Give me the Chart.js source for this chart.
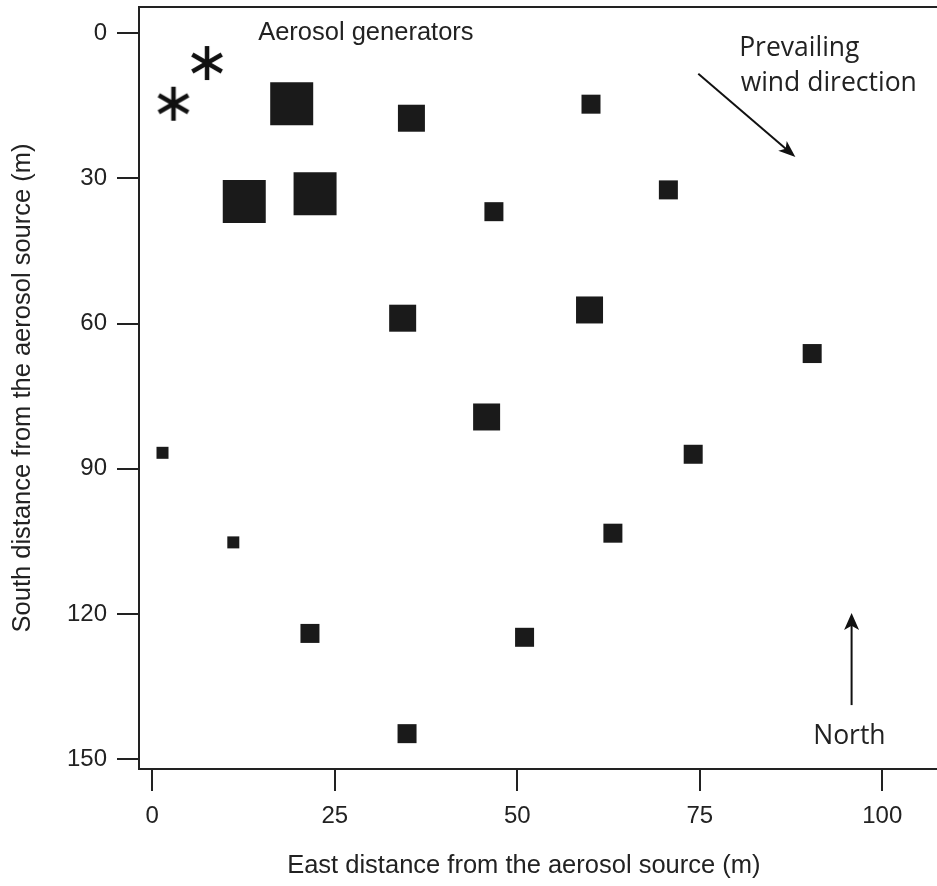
<!DOCTYPE html>
<html>
<head>
<meta charset="utf-8">
<script src="https://cdn.jsdelivr.net/npm/chart.js@4/dist/chart.umd.min.js"></script>
<style>
  html, body { margin: 0; padding: 0; background: #fff; }
  #wrap { width: 937px; height: 886px; }
</style>
</head>
<body>
<div id="wrap"><canvas id="siteMap"></canvas></div>
<script>
// Aerosol generators (asterisks), metres east / south of source
const generatorEast = [7.5, 2.9];
const generatorSouth = [6.2, 14.6];

// Samplers (squares); sizeClass 1..4 = marker size class in the figure
const samplerEast  = [19.1, 35.5, 60.1, 12.6, 22.3, 46.8, 70.7, 34.3, 59.9, 90.4, 45.8, 1.4, 74.1, 11.1, 63.1, 21.6, 51.0, 34.9];
const samplerSouth = [14.6, 17.6, 14.7, 34.8, 33.2, 36.9, 32.4, 58.9, 57.2, 66.2, 79.3, 86.7, 87.0, 105.2, 103.3, 124.0, 124.8, 144.7];
const samplerClass = [4, 3, 2, 4, 4, 2, 2, 3, 3, 2, 3, 1, 2, 1, 2, 2, 2, 2];

const xTicks = [0, 25, 50, 75, 100];
const yTicks = [0, 30, 60, 90, 120, 150];

// annotations in data units
const windArrow = [[74.8, 8.4], [88.1, 25.6]];
const northArrow = [[95.8, 138.8], [95.8, 119.8]];
const labels = [
    { text: 'Aerosol generators', x: 14.5, y: 1.4, font: '25.5px "Liberation Sans", Arial, sans-serif', align: 'left' },
    { text: 'Prevailing', x: 80.4, y: 4.8, font: '26.5px "Open Sans", sans-serif', align: 'left' },
    { text: 'wind direction', x: 80.6, y: 11.9, font: '26.5px "Open Sans", sans-serif', align: 'left' },
    { text: 'North', x: 95.5, y: 146.8, font: '26.5px "Open Sans", sans-serif', align: 'center' },
];

const ink = '#1a1a1a';
const sideByClass = { 1: 12, 2: 19, 3: 27, 4: 43 };

// asterisk marker
function makeAsterisk() {
    const c = document.createElement('canvas');
    c.width = 38; c.height = 38;
    const g = c.getContext('2d');
    g.strokeStyle = '#111';
    g.lineWidth = 4.5;
    g.translate(19, 19);
    for (let i = 0; i < 3; i++) {
        const a = Math.PI / 2 + i * Math.PI / 3;
        g.beginPath();
        g.moveTo(Math.cos(a) * 17, Math.sin(a) * 17);
        g.lineTo(-Math.cos(a) * 17, -Math.sin(a) * 17);
        g.stroke();
    }
    return c;
}

function drawArrow(ctx, x0, y0, x1, y1, headLen, headW) {
    const ang = Math.atan2(y1 - y0, x1 - x0);
    ctx.beginPath();
    ctx.moveTo(x0, y0);
    ctx.lineTo(x1 - Math.cos(ang) * headLen * 0.7, y1 - Math.sin(ang) * headLen * 0.7);
    ctx.stroke();
    ctx.save();
    ctx.translate(x1, y1);
    ctx.rotate(ang);
    ctx.beginPath();
    ctx.moveTo(0, 0);
    ctx.lineTo(-headLen, -headW / 2);
    ctx.lineTo(-headLen * 0.75, 0);
    ctx.lineTo(-headLen, headW / 2);
    ctx.closePath();
    ctx.fill();
    ctx.restore();
}

const annotations = {
    id: 'annotations',
    afterDraw(chart) {
        const { ctx, chartArea, scales: { x, y } } = chart;
        ctx.save();
        // top frame line
        ctx.strokeStyle = '#222';
        ctx.lineWidth = 2;
        ctx.beginPath();
        ctx.moveTo(chartArea.left, chartArea.top);
        ctx.lineTo(chartArea.right, chartArea.top);
        ctx.stroke();

        ctx.strokeStyle = '#111';
        ctx.fillStyle = '#111';
        ctx.lineWidth = 2;
        drawArrow(ctx, x.getPixelForValue(windArrow[0][0]), y.getPixelForValue(windArrow[0][1]),
            x.getPixelForValue(windArrow[1][0]), y.getPixelForValue(windArrow[1][1]), 17, 13);
        drawArrow(ctx, x.getPixelForValue(northArrow[0][0]), y.getPixelForValue(northArrow[0][1]),
            x.getPixelForValue(northArrow[1][0]), y.getPixelForValue(northArrow[1][1]), 17, 15);

        ctx.fillStyle = '#222';
        ctx.textBaseline = 'alphabetic';
        labels.forEach(l => {
            ctx.font = l.font;
            ctx.textAlign = l.align;
            ctx.fillText(l.text, x.getPixelForValue(l.x), y.getPixelForValue(l.y));
        });
        ctx.restore();
    }
};

const tickFont = { family: '"Liberation Sans", Arial, sans-serif', size: 24 };
const titleFont = { family: '"Liberation Sans", Arial, sans-serif', size: 25.5 };

// drop the automatic end-label padding so the frame fills the canvas
function noEdgePadding(s) {
    s.paddingTop = 0; s.paddingBottom = 0; s.paddingLeft = 0; s.paddingRight = 0;
}

new Chart(document.getElementById('siteMap'), {
    type: 'scatter',
    data: {
        datasets: [
            {
                label: 'Aerosol generators',
                data: generatorEast.map((e, i) => ({ x: e, y: generatorSouth[i] })),
                pointStyle: makeAsterisk(),
                pointRadius: 19,
            },
            {
                label: 'Samplers',
                data: samplerEast.map((e, i) => ({ x: e, y: samplerSouth[i] })),
                pointStyle: 'rect',
                pointRadius: samplerClass.map(c => sideByClass[c] / (2 * Math.SQRT1_2)),
                backgroundColor: ink,
                borderColor: ink,
                borderWidth: 0,
            },
        ],
    },
    options: {
        responsive: true,
        maintainAspectRatio: false,
        animation: false,
        layout: { autoPadding: false, padding: { top: 7, right: 0, bottom: 0, left: 0 } },
        plugins: {
            legend: { display: false },
            tooltip: { enabled: false },
        },
        scales: {
            x: {
                type: 'linear',
                min: -1.82,
                max: 107.5,
                afterBuildTicks: s => { s.ticks = xTicks.map(v => ({ value: v })); },
                afterFit: s => { s.height = 117; noEdgePadding(s); },
                grid: { drawOnChartArea: false, drawTicks: true, tickLength: 22, color: '#222', lineWidth: 2 },
                border: { display: true, color: '#222', width: 2 },
                ticks: { font: tickFont, color: '#222', padding: 11, maxRotation: 0 },
                // trailing spaces nudge the centred title left, as in the original figure
                title: { display: true, text: 'East distance from the aerosol source (m)\u00a0\u00a0\u00a0\u00a0', font: titleFont, color: '#222', padding: { top: 0, bottom: 5 } },
            },
            y: {
                type: 'linear',
                reverse: true,
                min: -5.37,
                max: 152,
                afterBuildTicks: s => { s.ticks = yTicks.map(v => ({ value: v })); },
                afterFit: s => { s.width = 139; noEdgePadding(s); },
                grid: { drawOnChartArea: false, drawTicks: true, tickLength: 22, color: '#222', lineWidth: 2 },
                border: { display: true, color: '#222', width: 2 },
                ticks: { font: tickFont, color: '#222', padding: 10 },
                title: { display: true, text: 'South distance from the aerosol source (m)', font: titleFont, color: '#222', padding: { top: 8, bottom: 0 } },
            },
        },
    },
    plugins: [annotations],
});
</script>
</body>
</html>
